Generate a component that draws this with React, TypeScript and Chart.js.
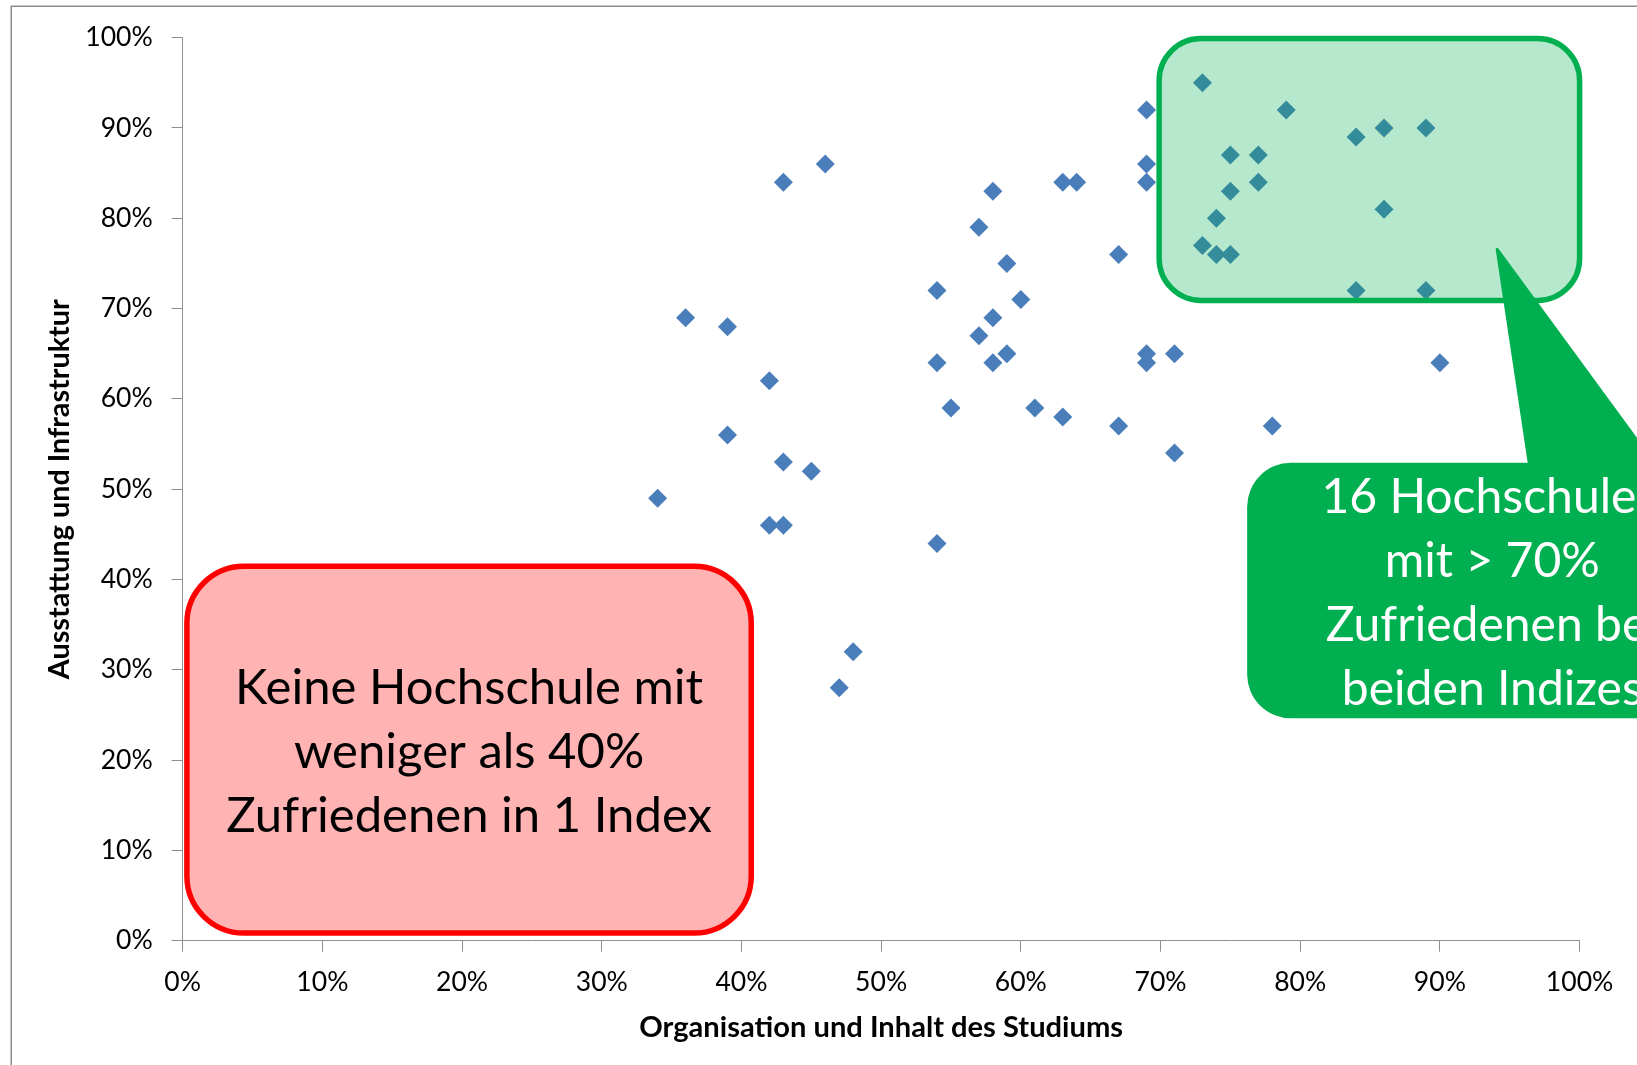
import React, { useEffect, useRef } from 'react';
import { Chart, registerables } from 'chart.js';

Chart.register(...registerables);

// ---- data (values in percent) ----
const organisation = [34, 36, 39, 39, 42, 42, 43, 43, 43, 45, 46, 47, 48, 54, 54, 54, 55, 57, 57, 58, 58, 58, 59, 59, 60, 61, 63, 64, 63, 67, 67, 69, 69, 69, 69, 69, 71, 71, 73, 73, 74, 74, 75, 75, 75, 77, 77, 79, 78, 84, 84, 86, 86, 89, 89, 90];
const ausstattung = [49, 69, 68, 56, 62, 46, 46, 53, 84, 52, 86, 28, 32, 72, 64, 44, 59, 79, 67, 83, 69, 64, 75, 65, 71, 59, 84, 84, 58, 76, 57, 92, 86, 84, 65, 64, 65, 54, 95, 77, 80, 76, 87, 83, 76, 87, 84, 92, 57, 89, 72, 90, 81, 90, 72, 64];
const xTickLabels = ['0%', '10%', '20%', '30%', '40%', '50%', '60%', '70%', '80%', '90%', '100%'];
const yTickLabels = ['0%', '10%', '20%', '30%', '40%', '50%', '60%', '70%', '80%', '90%', '100%'];
const xTitle = 'Organisation und Inhalt des Studiums';
const yTitle = 'Ausstattung und Infrastruktur';
const redLines = ['Keine Hochschule mit', 'weniger als 40%', 'Zufriedenen in 1 Index'];
const greenLines = ['16 Hochschulen', 'mit > 70%', 'Zufriedenen bei', 'beiden Indizes'];

const FONT = 'Lato';

function fitSize(texts: string[], targets: number[], weight: string) {
  const c = document.createElement('canvas').getContext('2d')!;
  c.font = `${weight} 100px ${FONT}`;
  let sum = 0;
  texts.forEach((t, i) => {
    sum += (100 * targets[i]) / c.measureText(t).width;
  });
  return sum / texts.length;
}

function rr(ctx: CanvasRenderingContext2D, x0: number, y0: number, x1: number, y1: number, r: number) {
  ctx.beginPath();
  ctx.moveTo(x0 + r, y0);
  ctx.lineTo(x1 - r, y0);
  ctx.arcTo(x1, y0, x1, y0 + r, r);
  ctx.lineTo(x1, y1 - r);
  ctx.arcTo(x1, y1, x1 - r, y1, r);
  ctx.lineTo(x0 + r, y1);
  ctx.arcTo(x0, y1, x0, y1 - r, r);
  ctx.lineTo(x0, y0 + r);
  ctx.arcTo(x0, y0, x0 + r, y0, r);
  ctx.closePath();
}

export default function App() {
  const ref = useRef<HTMLCanvasElement>(null);

  useEffect(() => {
    const canvas = ref.current!;
    const tickSize = fitSize(['100%'], [67.5], 'normal');
    const titleSizeX = fitSize([xTitle], [484], 'bold');
    const titleSizeY = fitSize([yTitle], [380], 'bold');
    const redSize = fitSize(redLines, [468, 349, 488], 'normal');
    const greenSize = fitSize(['mit > 70%'], [215], 'normal');

    const drawLines = (ctx: CanvasRenderingContext2D, lines: string[], cx: number, cy: number, size: number, color: string) => {
      ctx.font = `normal ${size}px ${FONT}`;
      ctx.fillStyle = color;
      ctx.textAlign = 'center';
      ctx.textBaseline = 'alphabetic';
      const cap = ctx.measureText('H').actualBoundingBoxAscent;
      const lh = 64;
      lines.forEach((l, i) => {
        ctx.fillText(l, cx, cy + (i - (lines.length - 1) / 2) * lh + cap / 2);
      });
    };

    const frame = {
      id: 'frame',
      beforeDraw(chart: any) {
        const ctx = chart.ctx;
        ctx.save();
        ctx.strokeStyle = '#8c8c8c';
        ctx.lineWidth = 1.5;
        ctx.strokeRect(11.25, 6.25, 4000, 4000);
        ctx.restore();
      },
    };

    const annotations = {
      id: 'annotations',
      afterDatasetsDraw(chart: any) {
        const ctx: CanvasRenderingContext2D = chart.ctx;
        const xs = chart.scales.x;
        const ys = chart.scales.y;
        const px = (v: number) => xs.getPixelForValue(v);
        const py = (v: number) => ys.getPixelForValue(v);
        ctx.save();

        // green translucent zone
        rr(ctx, px(69.9), py(99.9), px(100), py(70.9), 42);
        ctx.fillStyle = 'rgba(0,176,80,0.29)';
        ctx.fill();
        ctx.lineWidth = 5.5;
        ctx.strokeStyle = '#00B050';
        ctx.stroke();

        // red box
        rr(ctx, px(0.3), py(41.46), px(40.7), py(0.85), 57);
        ctx.fillStyle = '#FFB3B3';
        ctx.fill();
        ctx.lineWidth = 5.5;
        ctx.strokeStyle = '#FF0000';
        ctx.stroke();
        drawLines(ctx, redLines, (px(0.3) + px(40.7)) / 2, (py(41.46) + py(0.85)) / 2 + 1, redSize, '#000000');

        // green callout with pointer
        const tipX = px(94.1), tipY = py(76.57);
        const lbX = px(96.39), rbX = px(105.29), bY = py(52.93);
        const ext = 1.08;
        ctx.beginPath();
        ctx.moveTo(tipX, tipY);
        ctx.lineTo(tipX + (lbX - tipX) * ext, tipY + (bY - tipY) * ext);
        ctx.lineTo(tipX + (rbX - tipX) * ext, tipY + (bY - tipY) * ext);
        ctx.closePath();
        ctx.fillStyle = '#00B050';
        ctx.lineJoin = 'round';
        ctx.lineWidth = 3;
        ctx.strokeStyle = '#00B050';
        ctx.fill();
        ctx.stroke();
        const cx0 = px(76.2), cx1 = px(111.3), cy0 = py(52.93), cy1 = py(24.63);
        rr(ctx, cx0, cy0, cx1, cy1, 44);
        ctx.fill();
        drawLines(ctx, greenLines, (cx0 + cx1) / 2, (cy0 + cy1) / 2 + 1, greenSize, '#FFFFFF');

        ctx.restore();
      },
    };

    const axisColor = '#8e8e8e';
    const chart = new Chart(canvas, {
      type: 'scatter',
      data: {
        datasets: [
          {
            data: organisation.map((x, i) => ({ x, y: ausstattung[i] })),
            pointStyle: 'rectRot',
            pointRadius: 9.5,
            pointHoverRadius: 9.5,
            backgroundColor: '#4A7EBB',
            borderWidth: 0,
          },
        ],
      },
      options: {
        responsive: false,
        animation: false,
        devicePixelRatio: 1,
        layout: { padding: { top: 37.7, right: 57.4, left: 0, bottom: 0 } },
        plugins: { legend: { display: false }, tooltip: { enabled: false } },
        scales: {
          x: {
            type: 'linear',
            min: 0,
            max: 100,
            afterFit: (s: any) => {
              s.height = 124.3;
            },
            ticks: {
              stepSize: 10,
              padding: 15,
              color: '#000',
              font: { family: FONT, size: tickSize },
              callback: (_v: any, i: number) => xTickLabels[i],
              maxRotation: 0,
            },
            grid: { drawOnChartArea: false, drawTicks: true, tickLength: 11, color: axisColor },
            border: { display: true, color: axisColor, width: 1 },
            title: {
              display: true,
              text: xTitle,
              color: '#000',
              font: { family: FONT, size: titleSizeX, weight: 'bold', lineHeight: 1.2 },
              padding: { top: 0, bottom: 37 - (titleSizeX * 1.2) / 2 },
            },
          },
          y: {
            type: 'linear',
            min: 0,
            max: 100,
            afterFit: (s: any) => {
              s.width = 182.7;
            },
            ticks: {
              stepSize: 10,
              padding: 19,
              color: '#000',
              font: { family: FONT, size: tickSize },
              callback: (_v: any, i: number) => yTickLabels[i],
            },
            grid: { drawOnChartArea: false, drawTicks: true, tickLength: 11, color: axisColor },
            border: { display: true, color: axisColor, width: 1 },
            title: {
              display: true,
              text: yTitle,
              color: '#000',
              font: { family: FONT, size: titleSizeY, weight: 'bold', lineHeight: 1.2 },
              padding: { top: 60 - (titleSizeY * 1.2) / 2, bottom: 0 },
            },
          },
        },
      },
      plugins: [frame, annotations],
    } as any);

    return () => chart.destroy();
  }, []);

  return (
    <div style={{ position: 'absolute', left: 0, top: 0, width: 1637, height: 1065, background: '#fff' }}>
      <canvas ref={ref} width={1637} height={1065} style={{ display: 'block', width: 1637, height: 1065 }} />
    </div>
  );
}
